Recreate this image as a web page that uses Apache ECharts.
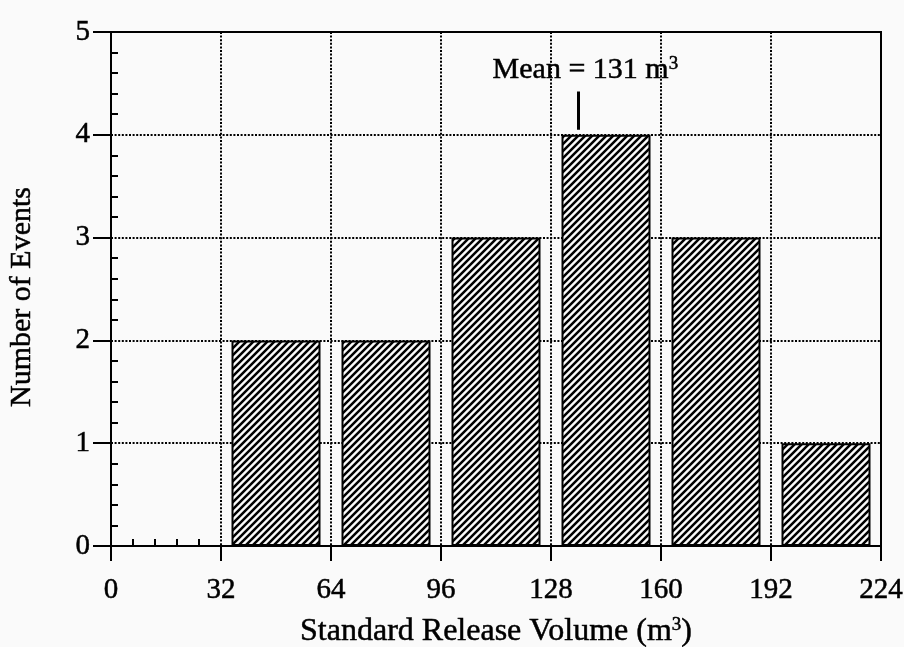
<!DOCTYPE html>
<html><head><meta charset="utf-8">
<script src="https://cdn.jsdelivr.net/npm/echarts@6/dist/echarts.min.js"></script>
<style>html,body{margin:0;padding:0;background:#fafafa}#c{width:904px;height:647px}</style>
</head><body><div id="c"></div>
<script>
// ---- data ----
const binStarts = [32, 64, 96, 128, 160, 192];
const binWidth = 32;
const eventCounts = [2, 2, 3, 4, 3, 1];
const xTickValues = [0, 32, 64, 96, 128, 160, 192, 224];
const yTickValues = [0, 1, 2, 3, 4, 5];
const meanValue = 131;
const meanMarkerX = [136, 136];
const meanMarkerY = [4.05, 4.42];
const meanLabelPoint = [138, 4.63];
const xTitle = 'Standard Release Volume (m{sup|3})';
const yTitle = 'Number of Events';

// ---- style ----
const FONT = 'Liberation Serif';
const FS = 29;
const INK = { textBorderColor: '#000', textBorderWidth: 0.5 };
const hatch = (function () {
  const s = 7, c = document.createElement('canvas');
  c.width = s; c.height = s;
  const g = c.getContext('2d');
  g.fillStyle = '#fafafa'; g.fillRect(0, 0, s, s);
  g.strokeStyle = '#000'; g.lineWidth = 2.5;
  g.beginPath();
  g.moveTo(-1, s + 1); g.lineTo(s + 1, -1);
  g.moveTo(-2, 2); g.lineTo(2, -2);
  g.moveTo(s - 2, s + 2); g.lineTo(s + 2, s - 2);
  g.stroke();
  return c;
})();
const dotted = { color: '#000', width: 2, type: [2, 1.6] };
const supStyle = Object.assign({ fontFamily: FONT, fontSize: 19, color: '#000', verticalAlign: 'top', padding: [0, 0, 12, 0] }, INK);

const chart = echarts.init(document.getElementById('c'), null, { renderer: 'canvas' });
const xMin = xTickValues[0], xMax = xTickValues[xTickValues.length - 1];
const yMin = yTickValues[0], yMax = yTickValues[yTickValues.length - 1];
const xInt = xTickValues[1] - xTickValues[0];
const yInt = yTickValues[1] - yTickValues[0];

chart.setOption({
  backgroundColor: '#fafafa',
  animation: false,
  textStyle: { fontFamily: FONT, color: '#000' },
  grid: { left: 111, right: 23, top: 32, bottom: 101, outerBoundsMode: 'none', containLabel: false,
    show: true, borderColor: '#000', borderWidth: 2, backgroundColor: 'transparent' },
  xAxis: [{
    type: 'value', min: xMin, max: xMax, interval: xInt, position: 'bottom',
    axisLine: { show: true, lineStyle: { color: '#000', width: 2 } },
    axisTick: { show: true, inside: false, length: 15, lineStyle: { color: '#000', width: 2 } },
    axisLabel: Object.assign({ fontFamily: FONT, fontSize: FS, color: '#000', margin: 30, showMinLabel: true, showMaxLabel: true }, INK),
    splitLine: { show: true, showMinLine: false, showMaxLine: false, lineStyle: dotted },
    name: xTitle, nameLocation: 'middle', nameGap: 70,
    nameTextStyle: Object.assign({ fontFamily: FONT, fontSize: 32, color: '#000', rich: { sup: supStyle } }, INK)
  }, {
    type: 'value', min: xMin, max: xMax, interval: xInt, position: 'bottom',
    axisLine: { show: false }, axisLabel: { show: false }, splitLine: { show: false },
    axisTick: { show: false, inside: true },
    minorTick: { show: true, splitNumber: 5, length: 7, lineStyle: { color: '#000', width: 2 } }
  }],
  yAxis: [{
    type: 'value', min: yMin, max: yMax, interval: yInt, position: 'left',
    axisLine: { show: true, lineStyle: { color: '#000', width: 2 } },
    axisTick: { show: true, inside: false, length: 18, lineStyle: { color: '#000', width: 2 } },
    axisLabel: Object.assign({ fontFamily: FONT, fontSize: FS, color: '#000', margin: 21 }, INK),
    splitLine: { show: true, showMinLine: false, showMaxLine: false, lineStyle: dotted },
    name: yTitle, nameLocation: 'middle', nameGap: 74, nameRotate: 90,
    nameTextStyle: Object.assign({ fontFamily: FONT, fontSize: 30, color: '#000', padding: [0, 16, 0, 0] }, INK)
  }, {
    type: 'value', min: yMin, max: yMax, interval: yInt, position: 'left',
    axisLine: { show: false }, axisLabel: { show: false }, splitLine: { show: false },
    axisTick: { show: false, inside: true },
    minorTick: { show: true, splitNumber: 5, length: 7, lineStyle: { color: '#000', width: 2 } }
  }],
  series: [{
    type: 'bar', xAxisIndex: 0, yAxisIndex: 0, barWidth: 89, z: 3,
    data: binStarts.map((s, i) => [s + binWidth / 2, eventCounts[i]]),
    itemStyle: { color: { image: hatch, repeat: 'repeat' }, borderColor: '#000', borderWidth: 2 }
  }, {
    type: 'line', xAxisIndex: 0, yAxisIndex: 0, symbol: 'none', z: 4,
    data: meanMarkerX.map((x, i) => [x, meanMarkerY[i]]),
    lineStyle: { color: '#000', width: 3 }
  }, {
    type: 'scatter', xAxisIndex: 0, yAxisIndex: 0, symbolSize: 0, z: 4,
    itemStyle: { opacity: 1 },
    data: [meanLabelPoint],
    label: Object.assign({ show: true, position: 'inside', opacity: 1,
      formatter: 'Mean = ' + meanValue + ' m{sup|3}',
      fontFamily: FONT, fontSize: 30, color: '#000',
      rich: { sup: supStyle } }, INK)
  }]
});
</script></body></html>
